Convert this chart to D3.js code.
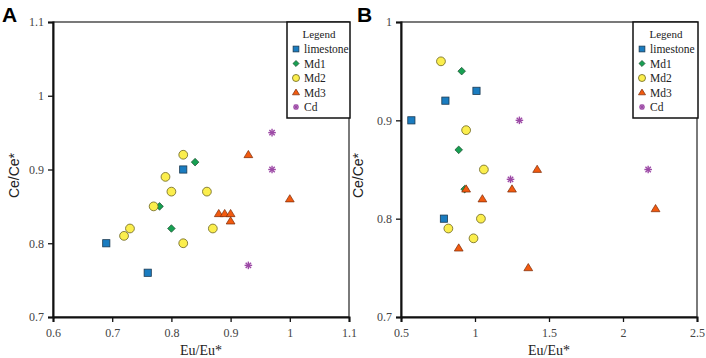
<!DOCTYPE html>
<html>
<head>
<meta charset="utf-8">
<script src="https://cdn.jsdelivr.net/npm/d3@7"></script>
<style>
  body { margin: 0; background: #fff; }
  svg { display: block; }
</style>
</head>
<body>
<div id="chart"></div>
<script>
// categories / legend
const groups = ["limestone", "Md1", "Md2", "Md3", "Cd"];

// panel A values [Eu/Eu*, Ce/Ce*]
const aLimestone = [[0.69, 0.80], [0.76, 0.76], [0.82, 0.90]];
const aMd1 = [[0.84, 0.91], [0.78, 0.85], [0.80, 0.82]];
const aMd2 = [[0.82, 0.92], [0.79, 0.89], [0.80, 0.87], [0.86, 0.87], [0.77, 0.85],
              [0.73, 0.82], [0.72, 0.81], [0.82, 0.80], [0.87, 0.82]];
const aMd3 = [[0.93, 0.92], [1.00, 0.86], [0.88, 0.84], [0.89, 0.84], [0.90, 0.84], [0.90, 0.83]];
const aCd = [[0.97, 0.95], [0.97, 0.90], [0.93, 0.77]];

// panel B values
const bLimestone = [[0.57, 0.90], [0.80, 0.92], [1.01, 0.93], [0.79, 0.80]];
const bMd1 = [[0.91, 0.95], [0.89, 0.87], [0.93, 0.83]];
const bMd2 = [[0.77, 0.96], [0.94, 0.89], [1.06, 0.85], [1.04, 0.80], [0.82, 0.79], [0.99, 0.78]];
const bMd3 = [[1.42, 0.85], [0.94, 0.83], [1.25, 0.83], [1.05, 0.82], [0.89, 0.77], [1.36, 0.75], [2.22, 0.81]];
const bCd = [[1.30, 0.90], [1.24, 0.84], [2.17, 0.85]];

// tick labels
const aXTicks = [0.6, 0.7, 0.8, 0.9, 1, 1.1];
const aYTicks = [0.7, 0.8, 0.9, 1, 1.1];
const bXTicks = [0.5, 1, 1.5, 2, 2.5];
const bYTicks = [0.7, 0.8, 0.9, 1];

const colors = {
    limestone: "#1a7cc0",
    Md1: "#17a052",
    Md2: "#fbee4d",
    Md3: "#f25a0f",
    Cd: "#9d4aa6"
};

const serif = "'Liberation Serif', 'DejaVu Serif', serif";
const sans = "'Liberation Sans', Arial, sans-serif";

const svg = d3.select("#chart").append("svg")
    .attr("width", 706)
    .attr("height", 358);

// draw one marker of a group at (0,0) inside g
function marker(g, key, s) {
    const k = s || 1;
    if (key === "limestone") {
        g.append("rect").attr("x", -3.6 * k).attr("y", -3.6 * k)
            .attr("width", 7.2 * k).attr("height", 7.2 * k)
            .attr("fill", colors[key]).attr("stroke", "#1b3a52").attr("stroke-width", 0.8);
    } else if (key === "Md1") {
        const r = 3.8 * k;
        g.append("path").attr("d", `M0,${-r}L${r},0L0,${r}L${-r},0Z`)
            .attr("fill", colors[key]).attr("stroke", "#1d4a2e").attr("stroke-width", 0.7);
    } else if (key === "Md2") {
        g.append("circle").attr("r", 4.4 * k)
            .attr("fill", colors[key]).attr("stroke", "#6b6320").attr("stroke-width", 0.8);
    } else if (key === "Md3") {
        const h = 7.2 * k, w = 4.4 * k;
        g.append("path").attr("d", `M0,${-h * 0.6}L${w},${h * 0.4}L${-w},${h * 0.4}Z`)
            .attr("fill", colors[key]).attr("stroke", "#7a2b08").attr("stroke-width", 0.7);
    } else {
        const r = 3.8 * k;
        for (let i = 0; i < 4; i++) {
            const a = i * Math.PI / 4;
            g.append("line")
                .attr("x1", -r * Math.cos(a)).attr("y1", -r * Math.sin(a))
                .attr("x2", r * Math.cos(a)).attr("y2", r * Math.sin(a))
                .attr("stroke", colors[key]).attr("stroke-width", 1.4);
        }
    }
}

function panel(opt) {
    const x = d3.scaleLinear().domain(opt.xDomain).range([opt.left, opt.right]);
    const y = d3.scaleLinear().domain(opt.yDomain).range([opt.bottom, opt.top]);
    const g = svg.append("g");

    // frame
    g.append("rect")
        .attr("x", opt.left).attr("y", opt.top)
        .attr("width", opt.right - opt.left).attr("height", opt.bottom - opt.top)
        .attr("fill", "none").attr("stroke", "#222").attr("stroke-width", 1.2);

    // axes
    const xAxis = g.append("g")
        .attr("transform", `translate(0, ${opt.bottom})`)
        .call(d3.axisBottom(x).tickValues(opt.xTicks).tickSize(5).tickPadding(6).tickFormat(d3.format("")));
    const yAxis = g.append("g")
        .attr("transform", `translate(${opt.left}, 0)`)
        .call(d3.axisLeft(y).tickValues(opt.yTicks).tickSize(5).tickPadding(4).tickFormat(d3.format("")));
    [xAxis, yAxis].forEach(a => {
        a.attr("font-family", null).attr("font-size", null);
        a.select(".domain").attr("stroke", "#111").attr("stroke-width", 2);
        a.selectAll(".tick line").attr("stroke", "#111").attr("stroke-width", 1.3);
        a.selectAll(".tick text")
            .style("font-family", serif).style("font-size", "12px").style("fill", "#444");
    });

    // axis titles
    g.append("text")
        .attr("x", (opt.left + opt.right) / 2).attr("y", 355)
        .attr("text-anchor", "middle")
        .style("font-family", serif).style("font-size", "14px").style("fill", "#222")
        .text("Eu/Eu*");
    g.append("text")
        .attr("transform", `translate(${opt.yLabelX}, ${(opt.top + opt.bottom) / 2 + 6}) rotate(-90)`)
        .attr("text-anchor", "middle")
        .style("font-family", sans).style("font-size", "14px").style("fill", "#222")
        .text("Ce/Ce*");

    // panel letter
    g.append("text")
        .attr("x", opt.letterX).attr("y", 22)
        .style("font-family", sans).style("font-weight", "bold")
        .style("font-size", "21px").style("fill", "#000")
        .text(opt.letter);

    // points
    groups.forEach(key => {
        opt.data[key].forEach(d => {
            const m = g.append("g").attr("transform", `translate(${x(d[0])}, ${y(d[1])})`);
            marker(m, key);
        });
    });

    // legend
    const lg = g.append("g").attr("transform", `translate(${opt.legendX}, ${opt.top})`);
    lg.append("rect").attr("x", 0).attr("y", 0).attr("width", opt.right - opt.legendX + 1).attr("height", 96)
        .attr("fill", "#fff").attr("stroke", "#111").attr("stroke-width", 1.5);
    lg.append("text")
        .attr("x", (opt.right - opt.legendX) / 2 + 1).attr("y", 16)
        .attr("text-anchor", "middle")
        .style("font-family", serif).style("font-size", "11px").style("fill", "#222")
        .text("Legend");
    groups.forEach((key, i) => {
        const row = lg.append("g").attr("transform", `translate(0, ${27 + i * 14.5})`);
        const m = row.append("g").attr("transform", "translate(9, 0)");
        marker(m, key, 0.8);
        row.append("text").attr("x", 17).attr("y", 4)
            .style("font-family", serif).style("font-size", "11.5px").style("fill", "#222")
            .text(key);
    });
}

panel({
    letter: "A", letterX: 2,
    left: 53, right: 349, top: 22, bottom: 317,
    xDomain: [0.6, 1.1], yDomain: [0.7, 1.1],
    xTicks: aXTicks, yTicks: aYTicks,
    yLabelX: 19, legendX: 287,
    data: { limestone: aLimestone, Md1: aMd1, Md2: aMd2, Md3: aMd3, Cd: aCd }
});

panel({
    letter: "B", letterX: 357,
    left: 401, right: 697, top: 22, bottom: 317,
    xDomain: [0.5, 2.5], yDomain: [0.7, 1.0],
    xTicks: bXTicks, yTicks: bYTicks,
    yLabelX: 363, legendX: 633,
    data: { limestone: bLimestone, Md1: bMd1, Md2: bMd2, Md3: bMd3, Cd: bCd }
});
</script>
</body>
</html>
